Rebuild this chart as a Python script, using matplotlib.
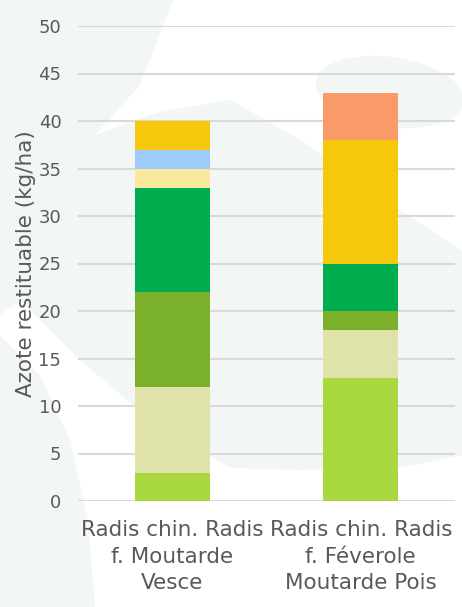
import numpy as np
import matplotlib.pyplot as plt
from matplotlib.patches import Polygon, Ellipse

# ---------- Data ----------
categories = ["Radis chin. Radis\nf. Moutarde\nVesce",
              "Radis chin. Radis\nf. Féverole\nMoutarde Pois"]

# stacked layers, bottom to top (kg N/ha)
layer_1 = [3, 13]
layer_2 = [9, 5]
layer_3 = [10, 2]
layer_4 = [11, 5]
layer_5 = [2, 0]
layer_6 = [2, 0]
layer_7 = [3, 13]
layer_8 = [0, 5]

layers = [layer_1, layer_2, layer_3, layer_4, layer_5, layer_6, layer_7, layer_8]
colors = ["#A9D83F", "#DFE3A9", "#7BB02B", "#00AD4F",
          "#FBE9A0", "#9DCBFA", "#F5C80C", "#F99A69"]

yticks = list(range(0, 55, 5))

W, H = 462, 607

# ---------- Figure ----------
fig = plt.figure(figsize=(W / 100, H / 100), dpi=100)
fig.patch.set_facecolor("white")

# faint decorative shapes on a background axes (pixel coords, y down)
bg_ax = fig.add_axes([0, 0, 1, 1], zorder=-1)
bg_ax.set_xlim(0, W)
bg_ax.set_ylim(H, 0)
bg_ax.axis("off")
bg = "#F2F7F6"
shapes = [
    # left column
    [(0, 0), (173, 0), (140, 85), (95, 135), (60, 200), (20, 300), (0, 315)],
    # big central swoosh
    [(60, 200), (95, 135), (160, 112), (231, 100), (300, 140), (330, 160),
     (400, 210), (462, 250), (462, 455), (400, 468), (300, 470), (231, 468),
     (150, 420), (80, 360), (20, 300)],
    # lower-left curve
    [(0, 335), (40, 375), (70, 440), (88, 520), (95, 607), (0, 607)],
]
for pts in shapes:
    bg_ax.add_patch(Polygon(pts, closed=True, facecolor=bg, edgecolor="none"))
bg_ax.add_patch(Ellipse((390, 92), 150, 70, angle=8, facecolor=bg, edgecolor="none"))

ax = fig.add_axes([78 / W, 1 - 501 / H, 377 / W, 475 / H])
ax.set_facecolor("none")

x = np.arange(len(categories))
bottom = np.zeros(len(categories))
for vals, c in zip(layers, colors):
    ax.bar(x, vals, width=0.4, bottom=bottom, color=c, zorder=3)
    bottom += np.array(vals)

ax.set_xlim(-0.5, 1.5)
ax.set_ylim(0, 50)
ax.set_yticks(yticks)
ax.yaxis.grid(True, color="#D9D9D9", linewidth=1.5, zorder=0)
ax.set_axisbelow(True)
for s in ax.spines.values():
    s.set_visible(False)

ax.tick_params(axis="both", length=0, colors="#595959")
ax.tick_params(axis="y", labelsize=13, pad=12)
ax.set_xticks(x)
ax.set_xticklabels(categories, fontsize=15.5, color="#595959", linespacing=1.4)
ax.tick_params(axis="x", pad=14)

ax.set_ylabel("Azote restituable (kg/ha)", fontsize=15.5, color="#595959", labelpad=2)

fig.savefig("out.png", dpi=100, facecolor=fig.get_facecolor())
